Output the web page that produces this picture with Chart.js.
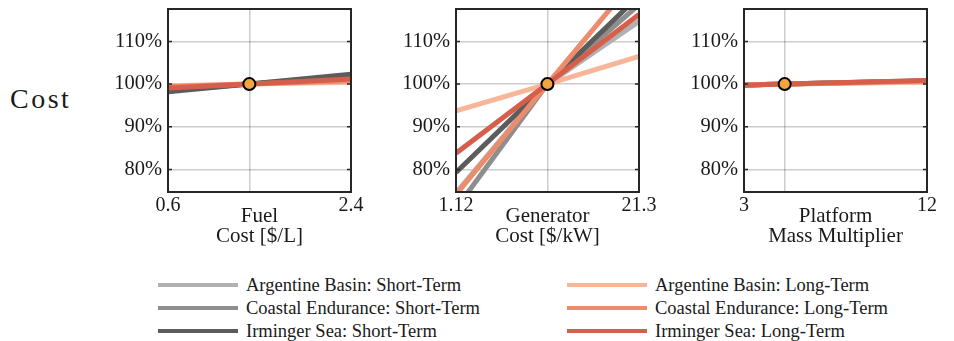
<!DOCTYPE html>
<html>
<head>
<meta charset="utf-8">
<script src="https://cdn.jsdelivr.net/npm/chart.js@4/dist/chart.umd.min.js"></script>
<style>
  html, body { margin: 0; padding: 0; background: #fff; }
  body { width: 954px; height: 341px; position: relative; overflow: hidden;
         font-family: 'Liberation Serif', serif; color: #1a1a1a; }
  .panel { position: absolute; top: 0; }
  .rowlabel { position: absolute; left: 10px; top: 82px; font-size: 28px; line-height: 34px; letter-spacing: 2.5px; }
  .legend-item { position: absolute; height: 24px; display: flex; align-items: center; font-size: 18.5px; white-space: nowrap; }
  .legend-item .swatch { width: 80px; height: 4px; margin-right: 8px; }
</style>
</head>
<body>
<div class="rowlabel">Cost</div>
<canvas id="fuel" class="panel" width="313" height="247"></canvas>
<canvas id="generator" class="panel" width="313" height="247"></canvas>
<canvas id="platform" class="panel" width="313" height="247"></canvas>
<div id="legend"></div>

<script>
// Series, in plotting / legend order
const seriesLabels = [
  'Argentine Basin: Short-Term',
  'Coastal Endurance: Short-Term',
  'Irminger Sea: Short-Term',
  'Argentine Basin: Long-Term',
  'Coastal Endurance: Long-Term',
  'Irminger Sea: Long-Term'
];
const seriesColors = ['#b1b1b1', '#8e8e8e', '#5c5c5c', '#f7b699', '#ec8c6c', '#d65f4c'];

// Parameter sweeps: low end, baseline, high end
const fuelX = [0.6, 1.4, 2.4];
const generatorX = [1.12, 11.2, 21.3];
const platformX = [3, 5, 12];

// Relative cost (%) for each series at the sweep points above
const fuelCost = [
  [98.8, 100, 101.5],
  [98.5, 100, 101.9],
  [98.2, 100, 102.3],
  [99.6, 100, 100.4],
  [99.4, 100, 100.8],
  [99.1, 100, 101.2]
];
const generatorCost = [
  [74.5, 100, 114.7],
  [70.8, 100, 118.6],
  [79.3, 100, 120.7],
  [93.7, 100, 106.5],
  [74.1, 100, 125.7],
  [83.8, 100, 116.3]
];
const platformCost = [
  [99.8, 100, 100.6],
  [99.8, 100, 100.7],
  [99.8, 100, 100.8],
  [99.85, 100, 100.45],
  [99.8, 100, 100.7],
  [99.75, 100, 100.85]
];

// Axis ticks and titles
const yTicks = [80, 90, 100, 110];
const yRange = [74.7, 117.6];
const fuelTickLabels = ['0.6', '2.4'];
const generatorTickLabels = ['1.12', '21.3'];
const platformTickLabels = ['3', '12'];
const fuelTitle = ['Fuel', 'Cost [$/L]'];
const generatorTitle = ['Generator', 'Cost [$/kW]'];
const platformTitle = ['Platform', 'Mass Multiplier'];

const FONT = "'Liberation Serif', serif";
const INK = '#1a1a1a';
const GRID = 'rgba(0,0,0,0.2)';

// Box frame with small inward ticks, drawn over everything
const framePlugin = {
  id: 'frame',
  afterDraw(chart) {
    const { ctx, chartArea: a, scales } = chart;
    ctx.save();
    ctx.strokeStyle = '#262626';
    ctx.lineWidth = 2;
    ctx.strokeRect(a.left, a.top, a.right - a.left, a.bottom - a.top);
    ctx.lineWidth = 1.5;
    ctx.beginPath();
    yTicks.forEach(v => {
      const y = scales.y.getPixelForValue(v);
      ctx.moveTo(a.left, y); ctx.lineTo(a.left + 4, y);
      ctx.moveTo(a.right, y); ctx.lineTo(a.right - 4, y);
    });
    ctx.stroke();
    ctx.restore();
  }
};

function makePanel(id, left, xs, values, tickLabels, title) {
  const canvas = document.getElementById(id);
  canvas.style.left = (left - 100) + 'px';
  const datasets = values.map((vals, i) => ({
    label: seriesLabels[i],
    data: xs.map((x, j) => ({ x: x, y: vals[j] })),
    borderColor: seriesColors[i],
    backgroundColor: seriesColors[i],
    borderWidth: 5,
    pointRadius: 0,
    tension: 0,
    clip: 0,
    order: 6 - i
  }));
  datasets.push({
    label: 'Baseline',
    data: [{ x: xs[1], y: 100 }],
    showLine: false,
    pointRadius: 6,
    pointBackgroundColor: '#f2a53c',
    pointBorderColor: '#000',
    pointBorderWidth: 2,
    order: 0
  });
  new Chart(canvas, {
    type: 'line',
    data: { datasets },
    options: {
      responsive: false,
      animation: false,
      events: [],
      layout: { padding: { left: 0, right: 30, top: 9, bottom: 0 } },
      plugins: { legend: { display: false }, tooltip: { enabled: false } },
      scales: {
        x: {
          type: 'linear',
          min: xs[0], max: xs[2],
          afterBuildTicks: s => { s.ticks = [{ value: xs[0] }, { value: xs[1] }, { value: xs[2] }]; },
          afterFit: s => { s.height = 55; s.paddingLeft = 0; s.paddingRight = 0; },
          border: { display: false },
          grid: { color: GRID, lineWidth: 1.5, drawTicks: false },
          ticks: {
            padding: 2, maxRotation: 0, autoSkip: false,
            color: INK, font: { family: FONT, size: 20 },
            callback: (v, i) => i === 0 ? tickLabels[0] : (i === 2 ? tickLabels[1] : '')
          },
          title: {
            display: true, text: title, color: INK,
            font: { family: FONT, size: 21, lineHeight: 0.96 },
            padding: { top: 0, bottom: 0 }
          }
        },
        y: {
          min: yRange[0], max: yRange[1],
          afterBuildTicks: s => { s.ticks = yTicks.map(v => ({ value: v })); },
          afterFit: s => { s.width = 100; s.paddingTop = 0; s.paddingBottom = 0; },
          border: { display: false },
          grid: { color: GRID, lineWidth: 1.5, drawTicks: false },
          ticks: {
            padding: 6, color: INK, font: { family: FONT, size: 20.5 },
            callback: v => v + '%'
          }
        }
      }
    },
    plugins: [framePlugin]
  });
}

function drawAll() {
  makePanel('fuel', 168, fuelX, fuelCost, fuelTickLabels, fuelTitle);
  makePanel('generator', 456, generatorX, generatorCost, generatorTickLabels, generatorTitle);
  makePanel('platform', 744, platformX, platformCost, platformTickLabels, platformTitle);
}

// Shared legend below the panels (two columns of three)
const legendPos = [[158, 273], [158, 296], [158, 319], [567, 273], [567, 296], [567, 319]];
const legend = document.getElementById('legend');
seriesLabels.forEach((label, i) => {
  const item = document.createElement('div');
  item.className = 'legend-item';
  item.style.left = legendPos[i][0] + 'px';
  item.style.top = legendPos[i][1] + 'px';
  const sw = document.createElement('span');
  sw.className = 'swatch';
  sw.style.background = seriesColors[i];
  item.appendChild(sw);
  item.appendChild(document.createTextNode(label));
  legend.appendChild(item);
});

document.fonts.load("20px 'Liberation Serif'").then(drawAll, drawAll);
</script>
</body>
</html>
